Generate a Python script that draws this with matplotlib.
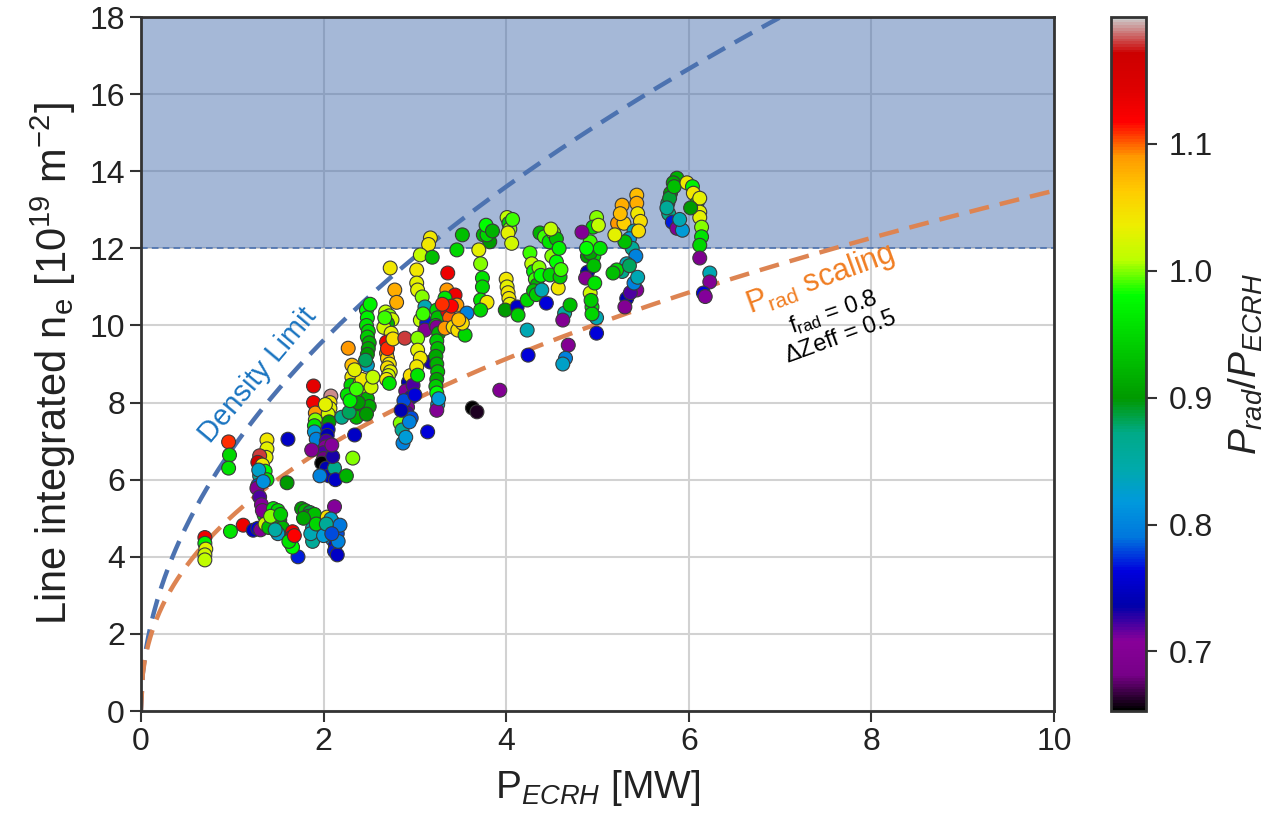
import numpy as np
import matplotlib
matplotlib.use("Agg")
import matplotlib.pyplot as plt

plt.rcParams["font.family"] = ["Liberation Sans", "DejaVu Sans"]
plt.rcParams["mathtext.fontset"] = "custom"
plt.rcParams["mathtext.rm"] = "Liberation Sans"
plt.rcParams["mathtext.it"] = "Liberation Sans:italic"
plt.rcParams["mathtext.bf"] = "Liberation Sans:bold"

# ECRH power [MW], one line per group of discharges
p_ecrh = [
    0.70, 0.70, 0.71, 0.70, 0.70,
    0.96, 0.97, 0.96, 0.98,
    1.12, 1.23, 1.28, 1.31,
    1.38, 1.38, 1.37, 1.30, 1.28, 1.33, 1.36, 1.30, 1.38, 1.28, 1.27, 1.30, 1.32, 1.35, 1.38, 1.36, 1.40, 1.33, 1.29, 1.34,
    1.45, 1.50, 1.52, 1.55, 1.50, 1.47, 1.42, 1.53,
    1.61, 1.60, 1.72,
    1.66, 1.65, 1.64, 1.66, 1.62, 1.68,
    1.76, 1.80, 1.85, 1.83, 1.88, 1.88, 1.90, 1.88, 1.90, 1.78, 1.86, 1.92,
    2.04, 2.10, 2.12, 2.05, 2.15, 2.10, 2.13, 2.12, 2.15, 2.00, 2.12, 2.08, 2.18, 2.03, 2.16, 2.09,
    1.89, 1.89, 1.91, 1.91, 1.90, 1.90, 1.92, 2.08, 2.07, 2.07, 2.05, 2.06, 2.05, 2.04, 2.03,
    2.02, 2.00, 2.00, 1.98, 2.03, 2.06, 2.12, 2.20, 1.87, 2.13, 1.96, 2.25, 2.10, 2.02, 2.09,
    2.27, 2.31, 2.31, 2.30, 2.32, 2.35, 2.36, 2.34, 2.32, 2.26, 2.28,
    2.40, 2.45, 2.48, 2.50, 2.38, 2.42, 2.34, 2.29, 2.36, 2.47, 2.52,
    2.47, 2.48, 2.47, 2.49, 2.48, 2.50, 2.49, 2.48, 2.48, 2.54, 2.46, 2.51,
    2.73, 2.78, 2.80, 2.68, 2.72, 2.75, 2.70, 2.66, 2.74, 2.69, 2.69,
    2.70, 2.72, 2.70, 2.73, 2.71, 2.69, 2.72, 2.70, 2.76, 2.67, 2.89,
    2.93, 2.90, 2.96, 2.92, 2.91, 2.96, 2.84, 2.86, 2.87, 3.14, 2.95, 2.98, 2.88, 2.94, 3.00, 2.90, 2.85, 3.17,
    3.17, 3.15, 3.02, 3.02, 3.03, 3.08, 3.11, 3.06, 3.13, 3.11, 3.03, 3.03, 3.06, 3.02, 3.03, 3.06, 3.19, 3.09,
    3.24, 3.25, 3.23, 3.24, 3.26, 3.24, 3.25, 3.23, 3.24, 3.25, 3.24, 3.23, 3.24, 3.25, 3.24, 3.26,
    3.36, 3.35, 3.44, 3.33, 3.36, 3.38, 3.33, 3.42, 3.47, 3.46, 3.57, 3.55, 3.52, 3.40, 3.30, 3.48,
    3.52, 3.46, 3.75, 3.82, 3.79, 3.70, 3.72, 3.74, 3.74, 3.72, 3.79, 3.72, 3.78, 3.85, 3.63, 3.68,
    4.01, 4.03, 4.04, 4.02, 4.06, 4.00, 4.01, 4.02, 4.03, 4.04, 3.99, 4.12, 4.13, 4.23, 3.93, 4.07,
    4.26, 4.28, 4.30, 4.32, 4.34, 4.36, 4.38, 4.30, 4.33, 4.39, 4.37, 4.42, 4.47,
    4.52, 4.55, 4.44, 4.57, 4.48, 4.59, 4.64, 4.62, 4.23, 4.24, 4.68, 4.65, 4.62,
    4.50, 4.55, 4.58, 4.60, 4.70, 4.49,
    4.99, 4.95, 4.92, 4.89, 4.96, 4.83, 4.89, 4.87, 4.92, 4.94,
    4.99, 4.99, 4.92, 4.96, 5.03, 4.94, 5.01, 4.88, 4.97, 4.93,
    5.27, 5.22, 5.29, 5.43, 5.43, 5.44, 5.47, 5.40, 5.35, 5.38, 5.42, 5.30, 5.32,
    5.27, 5.21, 5.17, 5.43, 5.32, 5.36, 5.40, 5.44, 5.25, 5.19, 5.35, 5.45, 5.30,
    5.87, 5.83, 5.80, 5.77, 5.78, 5.82, 5.87, 5.93, 5.79, 5.76, 5.84, 5.90,
    5.98, 6.04, 6.05, 6.09, 6.12, 6.12, 6.12, 6.14, 6.14, 6.12, 6.12, 6.23, 6.23, 6.16, 6.18, 6.02,
]

# line integrated density [1e19 m^-2]
ne_line = [
    4.50, 4.35, 4.20, 4.05, 3.92,
    6.98, 6.64, 6.30, 4.66,
    4.82, 4.69, 4.74, 4.70,
    7.03, 6.80, 6.58, 6.62, 6.45, 6.38, 6.22, 6.10, 6.00, 5.85, 5.78, 5.55, 5.35, 5.08, 4.95, 4.85, 4.76, 5.20, 6.25, 5.95,
    5.25, 5.20, 4.95, 4.75, 4.60, 4.70, 5.05, 5.10,
    7.05, 5.92, 4.00,
    4.65, 4.50, 4.35, 4.25, 4.40, 4.55,
    5.25, 5.20, 5.15, 5.05, 4.95, 4.75, 4.55, 4.40, 5.10, 5.00, 4.60, 4.85,
    5.03, 4.90, 4.75, 4.70, 4.60, 4.45, 4.30, 4.15, 4.05, 4.55, 5.30, 4.98, 4.82, 4.85, 4.40, 4.60,
    8.43, 8.00, 7.73, 7.55, 7.40, 7.24, 7.05, 8.17, 8.00, 7.85, 7.70, 7.50, 7.30, 7.15, 7.00,
    6.85, 6.70, 6.55, 6.43, 6.30, 6.10, 6.30, 7.62, 6.77, 6.00, 6.10, 6.10, 6.60, 7.95, 6.90,
    9.41, 8.97, 8.66, 8.45, 7.98, 7.80, 7.62, 7.16, 6.56, 8.20, 7.75,
    8.50, 8.30, 8.10, 7.90, 8.00, 8.60, 8.85, 8.05, 8.35, 7.70, 8.40,
    10.40, 10.20, 10.00, 9.85, 9.70, 9.55, 9.40, 9.25, 8.97, 8.66, 9.10, 10.55,
    11.49, 10.92, 10.60, 10.35, 10.25, 10.15, 10.05, 9.95, 9.80, 9.57, 9.28,
    9.15, 9.00, 8.90, 8.80, 8.70, 8.60, 8.50, 9.40, 9.65, 10.20, 9.67,
    8.53, 8.30, 8.14, 7.88, 7.73, 7.60, 7.47, 7.29, 6.95, 7.24, 8.70, 8.45, 8.05, 7.50, 8.20, 7.10, 7.80, 9.05,
    12.27, 12.10, 11.44, 11.10, 10.92, 10.74, 10.48, 10.14, 10.06, 9.88, 9.67, 9.36, 9.15, 8.93, 8.71, 11.83, 11.77, 10.30,
    10.40, 10.20, 10.00, 9.96, 9.80, 9.60, 9.40, 9.20, 9.00, 8.80, 8.60, 8.42, 8.25, 7.95, 7.80, 8.10,
    11.36, 10.92, 10.79, 10.71, 10.35, 10.20, 9.93, 9.96, 9.88, 10.53, 10.32, 9.75, 10.06, 10.50, 10.55, 10.15,
    12.35, 11.96, 12.35, 12.17, 12.35, 11.96, 11.60, 11.23, 11.00, 10.66, 10.60, 10.40, 12.60, 12.45, 7.86, 7.76,
    12.80, 12.65, 12.50, 12.40, 12.13, 11.20, 11.00, 10.85, 10.70, 10.55, 10.40, 10.48, 10.27, 10.66, 8.32, 12.75,
    11.88, 11.60, 11.40, 11.20, 11.05, 11.50, 11.30, 10.90, 10.80, 10.92, 12.40, 12.30, 12.17,
    12.40, 12.25, 10.58, 10.97, 11.31, 11.26, 10.32, 10.14, 9.88, 9.23, 9.49, 9.15, 9.00,
    11.80, 11.65, 12.00, 11.45, 10.53, 12.50,
    12.80, 12.55, 12.17, 11.80, 11.80, 12.42, 11.38, 11.23, 10.84, 10.48,
    10.20, 9.80, 11.88, 11.55, 12.00, 10.30, 12.60, 12.00, 11.10, 10.65,
    13.12, 12.65, 12.65, 13.38, 13.17, 12.90, 12.70, 12.45, 12.25, 12.00, 11.80, 12.17, 11.60,
    11.40, 11.44, 11.36, 10.92, 10.70, 10.85, 11.10, 11.25, 12.90, 12.35, 11.55, 12.45, 10.48,
    13.82, 13.70, 13.43, 13.17, 12.90, 12.68, 12.52, 12.47, 13.30, 13.05, 13.60, 12.75,
    13.70, 13.60, 13.43, 13.17, 13.30, 12.94, 12.80, 12.55, 12.30, 12.08, 11.75, 11.36, 11.13, 10.84, 10.75, 13.05,
]

# P_rad / P_ECRH, colour of each point
prad_ratio = [
    1.13, 0.97, 1.03, 1.02, 1.01,
    1.11, 0.95, 0.96, 0.96,
    1.13, 0.75, 0.76, 0.70,
    1.04, 1.03, 1.03, 1.18, 1.17, 1.04, 0.98, 0.86, 0.96, 0.78, 0.70, 0.72, 0.71, 0.97, 1.01, 1.02, 0.93, 0.70, 0.83, 0.81,
    0.96, 0.95, 0.90, 0.92, 0.83, 0.85, 1.00, 0.94,
    0.75, 0.90, 0.77,
    1.13, 1.13, 1.02, 0.98, 0.96, 1.12,
    0.90, 0.92, 0.89, 0.90, 0.86, 0.85, 0.85, 0.86, 0.93, 0.91, 0.84, 0.95,
    1.05, 0.80, 0.80, 0.82, 0.78, 0.80, 0.76, 0.77, 0.75, 0.82, 0.71, 0.83, 0.79, 0.86, 0.80, 0.78,
    1.14, 1.13, 1.09, 1.00, 0.96, 0.82, 0.80, 1.19, 1.04, 1.03, 1.02, 0.90, 0.76, 0.74, 0.72,
    0.70, 0.72, 0.68, 0.65, 0.74, 0.75, 0.87, 0.87, 0.70, 0.75, 0.80, 0.92, 0.73, 1.03, 0.71,
    1.09, 1.07, 1.04, 0.95, 0.93, 0.91, 0.92, 0.75, 1.00, 0.96, 0.88,
    1.03, 1.02, 0.92, 0.91, 0.90, 1.04, 1.03, 0.97, 0.99, 0.90, 1.02,
    0.98, 0.97, 0.96, 0.95, 0.94, 0.92, 0.91, 0.90, 0.83, 1.01, 0.88, 0.97,
    1.04, 1.08, 1.08, 1.01, 1.00, 1.02, 0.92, 1.02, 1.03, 1.13, 1.09,
    1.06, 1.04, 1.05, 1.03, 1.02, 1.04, 0.96, 1.11, 1.05, 0.99, 1.18,
    0.74, 0.70, 0.76, 0.70, 0.72, 0.78, 1.00, 0.86, 0.80, 0.76, 1.05, 0.72, 0.78, 0.80, 0.76, 0.82, 0.74, 0.73,
    1.04, 1.04, 1.04, 1.03, 1.03, 1.00, 0.84, 1.01, 0.77, 0.70, 1.00, 1.03, 1.04, 1.04, 0.96, 1.01, 0.93, 0.99,
    0.95, 0.93, 0.94, 0.70, 0.92, 0.94, 0.93, 0.91, 0.92, 0.93, 0.91, 0.94, 0.98, 0.83, 0.70, 0.82,
    1.13, 1.09, 1.13, 0.96, 1.13, 1.10, 1.09, 1.05, 1.05, 1.09, 0.80, 0.95, 1.05, 1.12, 1.11, 1.07,
    0.93, 0.95, 0.92, 0.90, 0.95, 1.03, 1.00, 0.96, 0.95, 0.96, 1.04, 0.95, 0.98, 0.92, 0.65, 0.66,
    1.01, 0.95, 1.00, 1.03, 1.02, 1.04, 1.03, 1.04, 1.04, 1.03, 0.90, 0.75, 0.94, 0.95, 0.70, 0.99,
    0.99, 1.01, 0.97, 0.99, 0.92, 1.00, 0.98, 0.93, 0.94, 0.84, 0.92, 0.99, 0.96,
    1.00, 0.93, 0.76, 1.04, 0.95, 0.94, 0.85, 0.70, 0.84, 0.76, 0.70, 0.80, 0.83,
    1.00, 0.98, 0.97, 0.99, 0.93, 1.01,
    1.00, 0.95, 0.99, 0.90, 0.95, 0.70, 0.74, 0.70, 1.02, 0.96,
    0.84, 0.76, 0.91, 0.93, 0.96, 0.95, 1.01, 0.98, 0.96, 0.94,
    1.08, 1.09, 1.06, 1.07, 1.08, 1.04, 1.05, 0.84, 0.82, 0.86, 0.80, 0.93, 0.84,
    0.87, 0.95, 0.93, 0.70, 0.74, 0.72, 0.80, 0.84, 1.07, 1.03, 0.88, 1.05, 0.70,
    0.92, 0.91, 0.90, 0.88, 0.87, 0.77, 0.70, 0.82, 0.89, 0.86, 0.93, 0.84,
    1.04, 0.97, 1.04, 0.96, 1.03, 1.03, 1.03, 1.00, 0.96, 0.95, 0.69, 0.84, 0.70, 0.76, 0.71, 0.90,
]

# scaling curves n = a * P^b
density_limit = (6.8, 0.5)
prad_scaling = (5.06, 0.426)
ne_threshold = 12.0

x_ticks = [0, 2, 4, 6, 8, 10]
y_ticks = [0, 2, 4, 6, 8, 10, 12, 14, 16, 18]
cbar_ticks = [0.7, 0.8, 0.9, 1.0, 1.1]

blue = "#4c72b0"
orange = "#dd8452"
dark = "#333333"

fig = plt.figure(figsize=(12.79, 8.14), dpi=100)
ax = fig.add_axes([0.1102, 0.1265, 0.7139, 0.8526])
cax = fig.add_axes([0.8687, 0.1265, 0.0274, 0.8526])

ax.set_xlim(0, 10)
ax.set_ylim(0, 18)
ax.set_axisbelow(True)
ax.grid(True, color="#d2d2d2", lw=1.5)

ax.fill_between([0, 10], ne_threshold, 18, color=blue, alpha=0.5, lw=0, zorder=1)
ax.axhline(ne_threshold, color=blue, lw=1.2, ls=(0, (4, 2.5)), zorder=1.5)

p = np.linspace(0, 10, 500)
ax.plot(p, density_limit[0] * p ** density_limit[1], color=blue, lw=3.2,
        ls=(0, (4.5, 2.5)), zorder=2)
ax.plot(p, prad_scaling[0] * p ** prad_scaling[1], color=orange, lw=3.2,
        ls=(0, (4.5, 2.5)), zorder=2)

sc = ax.scatter(p_ecrh, ne_line, c=prad_ratio, cmap="nipy_spectral",
                vmin=0.653, vmax=1.2, s=100, edgecolors="#3a3a3a",
                linewidths=0.8, zorder=3)

ax.text(1.28, 8.72, "Density Limit", color="#1a74c0", fontsize=21,
        rotation=50, ha="center", va="center", rotation_mode="anchor")
ax.text(7.44, 11.2, r"P$_\mathregular{rad}$ scaling", color="#f07d22",
        fontsize=22, rotation=20, ha="center", va="center", rotation_mode="anchor")
ax.text(7.58, 10.35, r"f$_\mathregular{rad}$ = 0.8", color="black",
        fontsize=17, rotation=19, ha="center", va="center", rotation_mode="anchor")
ax.text(7.66, 9.68, r"$\Delta$Zeff = 0.5", color="black",
        fontsize=17, rotation=20, ha="center", va="center", rotation_mode="anchor")

ax.set_xticks(x_ticks)
ax.set_yticks(y_ticks)
ax.tick_params(direction="out", length=8, width=1.5, colors=dark,
               labelsize=23, labelcolor="#222222")
for sp in ax.spines.values():
    sp.set_color(dark)
    sp.set_linewidth(2)

ax.set_xlabel(r"P$_{ECRH}$ [MW]", fontsize=28, color="#222222", labelpad=8)
ax.set_ylabel(r"Line integrated n$_\mathregular{e}$ [10$^{19}$ m$^{-2}$]",
              fontsize=30, color="#222222", labelpad=8)

cb = fig.colorbar(sc, cax=cax)
cb.set_ticks(cbar_ticks)
cb.ax.tick_params(direction="out", length=8, width=1.5, colors=dark,
                  labelsize=23, labelcolor="#222222", pad=8)
cb.outline.set_edgecolor(dark)
cb.outline.set_linewidth(2)
cb.set_label(r"$P_{rad}/P_{ECRH}$", fontsize=28, color="#222222", labelpad=10)

fig.savefig("out.png", dpi=100)
